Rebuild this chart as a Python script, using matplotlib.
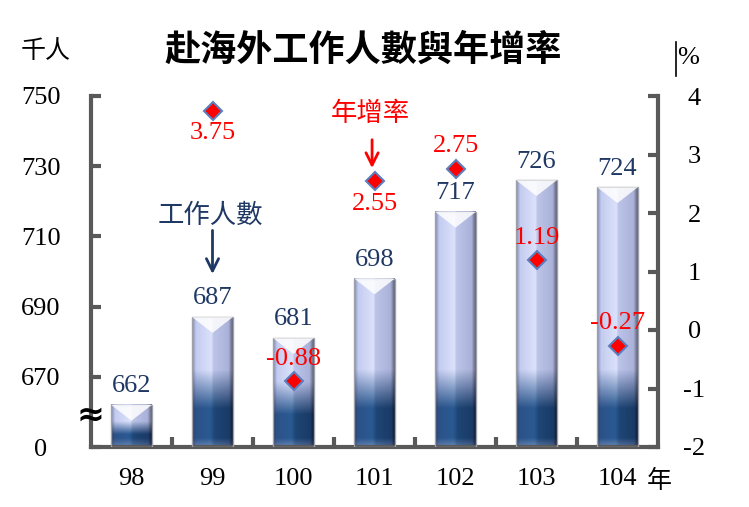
import numpy as np
import matplotlib
matplotlib.use("Agg")
import matplotlib.pyplot as plt
from matplotlib.patches import Polygon, Rectangle
from matplotlib.colors import to_rgb
import matplotlib.transforms as mtransforms

plt.rcParams['axes.unicode_minus'] = False

# data
years = ['98', '99', '100', '101', '102', '103', '104']
workers = [662, 687, 681, 698, 717, 726, 724]          # 千人
growth = [None, 3.75, -0.88, 2.55, 2.75, 1.19, -0.27]  # %
growth_above = [None, False, True, False, True, True, True]

BASE = 650
SERIF = ['Liberation Serif', 'DejaVu Serif']
CJK = ['Noto Sans CJK TC', 'DejaVu Sans']
NAVY = '#1f3864'
SPINE = '#595959'


def interp_colors(t, stops):
    pos = [s[0] for s in stops]
    cols = np.array([to_rgb(s[1]) for s in stops])
    return np.stack([np.interp(t, pos, cols[:, k]) for k in range(3)], axis=-1)


def bar_image(h, nx=80, ny=300):
    u = np.linspace(0, 1, nx)
    light = interp_colors(u, [(0, '#8088a8'), (0.06, '#a9b2da'), (0.1, '#c4ccf0'),
                              (0.48, '#dce2fb'), (0.52, '#bcc4e8'), (0.9, '#aab2da'),
                              (0.94, '#8a90ac'), (1, '#5c6078')])
    dark = interp_colors(u, [(0, '#2a3a5a'), (0.08, '#2c5288'), (0.45, '#2a5a92'),
                             (0.55, '#1e4676'), (0.92, '#1a3a66'), (1, '#101c30')])
    y = np.linspace(0, h, ny)
    top_ramp = min(22, 0.6 * h)
    full = min(11, 0.3 * h)
    m = np.clip((top_ramp - y) / (top_ramp - full), 0, 1)
    # lighter bevel at the very bottom
    m = m * (1 - 0.35 * np.clip((2.5 - y) / 2.5, 0, 1))
    m = m[:, None, None]
    return light[None, :, :] * (1 - m) + dark[None, :, :] * m


fig = plt.figure(figsize=(7.49, 5.07), dpi=100)
ax = fig.add_axes([91 / 749, 1 - 447 / 507, 567 / 749, 351 / 507])
ax2 = ax.twinx()

x = np.arange(len(years))
w = 0.5
for xi, v in zip(x, workers):
    img = bar_image(v - BASE)
    ax.imshow(img, extent=[xi - w / 2, xi + w / 2, BASE, v], origin='lower',
              aspect='auto', interpolation='bilinear', zorder=2)
    ax.add_patch(Rectangle((xi - w / 2, BASE), w, v - BASE, fill=False,
                           edgecolor='#a0a0a8', lw=1.0, zorder=3))
    d = min(4.5, 0.4 * (v - BASE))
    ax.add_patch(Polygon([(xi - w / 2, v), (xi + w / 2, v), (xi, v - d)],
                         closed=True, facecolor='white', edgecolor='none',
                         alpha=0.85, zorder=3))
    ax.text(xi, v + 2.2, str(v), ha='center', va='bottom', color=NAVY,
            fontsize=19, family=SERIF, zorder=4)

ax.set_xlim(-0.5, len(years) - 0.5)
ax.set_ylim(BASE, 750)
ax.set_yticks([650, 670, 690, 710, 730, 750])
ax.set_yticklabels(['0', '670', '690', '710', '730', '750'])
ax.set_xticks(x)
ax.set_xticklabels(years)
ax.set_xticks(np.arange(0.5, len(years) - 1, 1), minor=True)
ax.tick_params(axis='x', which='major', length=0, pad=15, labelsize=19)
ax.tick_params(axis='x', which='minor', direction='in', length=7, width=3, color=SPINE)
ax.tick_params(axis='y', direction='in', length=7, width=3, color=SPINE, pad=36, labelsize=19)
for lab in ax.get_yticklabels():
    lab.set_ha('center')
for lab in ax.get_xticklabels() + ax.get_yticklabels():
    lab.set_family(SERIF)

ax2.set_ylim(-2, 4)
ax2.set_yticks(range(-2, 5))
ax2.tick_params(axis='y', direction='in', length=7, width=3, color=SPINE, pad=26, labelsize=19)
for lab in ax2.get_yticklabels():
    lab.set_ha('center')
    lab.set_family(SERIF)

for a in (ax, ax2):
    for s in a.spines.values():
        s.set_color(SPINE)
        s.set_linewidth(3)
    a.spines['top'].set_visible(False)
ax.spines['right'].set_visible(False)
ax2.spines['left'].set_visible(False)
ax2.spines['bottom'].set_visible(False)

gx = [xi for xi, g in zip(x, growth) if g is not None]
gy = [g for g in growth if g is not None]
ax2.plot(gx, gy, linestyle='none', marker='D', ms=9, mfc='#ff0000',
         mec='#5b7fbf', mew=1.5, zorder=5)
for xi, g, above in zip(x, growth, growth_above):
    if g is None:
        continue
    if above:
        ax2.text(xi, g + 0.2, f'{g:.2f}', ha='center', va='bottom', color='#ff0000',
                 fontsize=19, family=SERIF, zorder=6)
    else:
        ax2.text(xi, g - 0.2, f'{g:.2f}', ha='center', va='top', color='#ff0000',
                 fontsize=19, family=SERIF, zorder=6)

# annotations
ax.annotate('', xy=(1, 698.5), xytext=(1, 712.5),
            arrowprops=dict(arrowstyle='->', color=NAVY, lw=2, mutation_scale=22))
ax.text(0.97, 716, '工作人數', ha='center', va='center', color=NAVY,
        fontsize=19, family=CJK)
ax2.annotate('', xy=(2.97, 2.72), xytext=(2.97, 3.3),
             arrowprops=dict(arrowstyle='->', color='#ff0000', lw=2, mutation_scale=22))
ax2.text(2.95, 3.7, '年增率', ha='center', va='center', color='#ff0000',
         fontsize=19, family=CJK)

# axis break mark
ax.text(0, 659, '≈', transform=mtransforms.blended_transform_factory(ax.transAxes, ax.transData),
        ha='center', va='center', fontsize=24, fontweight='bold', color='black',
        family=['DejaVu Sans'], clip_on=False, zorder=10)

# title and units
fig.text(0.485, 0.9, '赴海外工作人數與年增率', ha='center', va='center',
         fontsize=26, fontweight='bold', family=CJK)
fig.text(46 / 749, 1 - 51 / 507, '千人', ha='center', va='center', fontsize=18, family=CJK)
fig.text(688 / 749, 1 - 58 / 507, '%', ha='center', va='center', fontsize=19, family=SERIF)
fig.add_artist(plt.Line2D([676 / 749, 676 / 749], [1 - 42 / 507, 1 - 76 / 507],
                          color='black', lw=1.2))
ax.text(6.52, -0.06, '年', transform=mtransforms.blended_transform_factory(ax.transData, ax.transAxes),
        ha='center', va='top', fontsize=18, family=CJK)

fig.savefig('out.png', dpi=100)
